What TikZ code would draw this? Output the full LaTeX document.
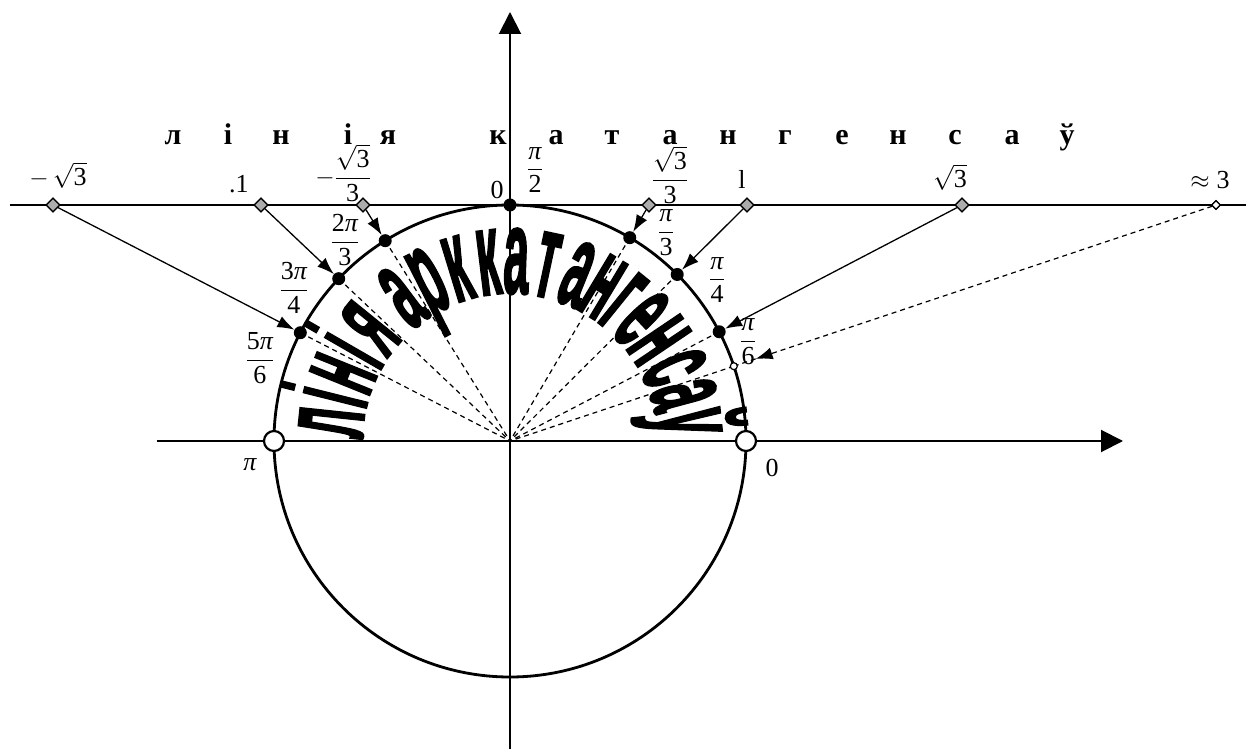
\documentclass[tikz,border=0pt]{standalone}
\usepackage{amsmath}
\usepackage{fontspec}
\setmainfont{Liberation Serif}
\newfontfamily\arcfont{Liberation Sans}[BoldFeatures={FakeBold=2.5}]
\usetikzlibrary{arrows.meta,shapes.geometric,calc}
\newcommand\ppi{\text{\itshape π}}
\newcommand\dg[1]{\text{#1}}
\begin{document}
\begin{tikzpicture}[x=1pt,y=1pt,
  axisline/.style={line width=2pt,-{Triangle[length=22pt,width=22pt]}},
  arr/.style={line width=1.3pt,-{Latex[length=17pt,width=12pt]}},
  dsh/.style={line width=1.2pt,dash pattern=on 5pt off 4pt},
  dia/.style={diamond,draw,fill=gray!65,line width=1.3pt,inner sep=0pt,minimum size=14pt},
  sdia/.style={diamond,draw,fill=white,line width=1.3pt,inner sep=0pt,minimum size=9pt},
  pdot/.style={circle,fill=black,inner sep=0pt,minimum size=13pt},
  odot/.style={circle,draw,fill=white,line width=2.2pt,minimum size=20pt,inner sep=0pt},
  sodot/.style={circle,draw,fill=white,line width=1.2pt,minimum size=7pt,inner sep=0pt},
  lab/.style={font=\fontsize{26}{30}\selectfont,inner sep=0pt},
  ttl/.style={font=\fontsize{30}{34}\selectfont\bfseries,inner sep=0pt,anchor=base},
  arcl/.style={font=\arcfont\bfseries\fontsize{120}{120}\selectfont,inner sep=0pt,anchor=base,xscale=0.38}]
\useasboundingbox (-510,-308) rectangle (736,441);
\coordinate (O) at (0,0);
% diamonds on the cotangent line
\node[dia] (D1) at (-457,236) {};
\node[dia] (D2) at (-249,236) {};
\node[dia] (D3) at (-147,236) {};
\node[dia] (D4) at (139,236) {};
\node[dia] (D5) at (237,236) {};
\node[dia] (D6) at (452,236) {};
\node[sdia] (D7) at (706,236) {};
% points on the circle
\coordinate (C1) at ($(O)!236pt!(D1)$);
\coordinate (C2) at ($(O)!236pt!(D2)$);
\coordinate (C3) at ($(O)!236pt!(D3)$);
\coordinate (C4) at ($(O)!236pt!(D4)$);
\coordinate (C5) at ($(O)!236pt!(D5)$);
\coordinate (C6) at ($(O)!236pt!(D6)$);
\coordinate (C7) at ($(O)!236pt!(D7)$);
\coordinate (Q7) at ($(O)!259pt!(D7)$);
% dashed radii
\foreach \i in {1,...,7} \draw[dsh] (C\i) -- (O);
\draw[dsh] (Q7) -- (C7);
% arc text
\foreach \a/\l in {174/л,166/і,158/н,150/і,141/я,127/а,117/р,107/к,97/к,88/а,78/т,68/а,59/н,51/г,43/е,34/н,24/с,15/а,6/ў}
  \node[rotate=\a-90,arcl] (arc\a) at (\a:148) {\l};
% circle and axes
\draw[line width=2.8pt] (O) circle (236);
\draw[axisline] (0,-308) -- (0,429);
\draw[axisline] (-353,0) -- (613,0);
\draw[line width=2.5pt] (-500,236) -- (736,236);
% dots
\foreach \i in {1,...,6} \node[pdot] (P\i) at (C\i) {};
\node[sodot] (P7) at (C7) {};
\node[pdot] (P0) at (0,236) {};
\node[odot] (Z0) at (236,0) {};
\node[odot] (Zpi) at (-236,0) {};
% arrows
\foreach \i in {1,...,6} \draw[arr] (D\i) -- (P\i);
\draw[dsh,-{Latex[length=17pt,width=12pt]}] (D7) -- (Q7);
% redraw diamonds on top
\node[dia] at (D1) {};
\node[dia] at (D2) {};
\node[dia] at (D3) {};
\node[dia] at (D4) {};
\node[dia] at (D5) {};
\node[dia] at (D6) {};
\node[sdia] at (D7) {};
% value labels
\node[lab] (t1) at (-452,266) {$-\,\sqrt{\dg{3}}$};
\node[lab] (t2) at (-271,257) {.1};
\node[lab] (t3) at (-167,268) {$-\dfrac{\sqrt{\dg{3}}}{\dg{3}}$};
\node[lab] (t0) at (-13,251) {0};
\node[lab] (a0) at (25,271) {$\dfrac{\ppi}{\dg{2}}$};
\node[lab] (t4) at (160,266) {$\dfrac{\sqrt{\dg{3}}}{\dg{3}}$};
\node[lab] (t5) at (232,262) {l};
\node[lab] (t6) at (440,264) {$\sqrt{\dg{3}}$};
\node[lab] (t7) at (700,261) {$\approx \dg{3}$};
% angle labels
\node[lab] (a1) at (-250,83) {$\dfrac{\dg{5}\ppi}{\dg{6}}$};
\node[lab] (a2) at (-216,153) {$\dfrac{\dg{3}\ppi}{\dg{4}}$};
\node[lab] (a3) at (-165,201) {$\dfrac{\dg{2}\ppi}{\dg{3}}$};
\node[lab] (a4) at (156,208) {$\dfrac{\ppi}{\dg{3}}$};
\node[lab] (a5) at (207,161) {$\dfrac{\ppi}{\dg{4}}$};
\node[lab] (a6) at (238,99) {$\dfrac{\ppi}{\dg{6}}$};
\node[lab] (api) at (-260,-24) {$\ppi$};
\node[lab] (az) at (262,-27) {0};
% title
\foreach \x/\l [count=\k] in {-337/л,-282/і,-229/н,-162/і,-122/я,-12/к,46/а,102/т,160/а,218/н,275/г,332/е,388/н,445/с,502/а,557/ў}
  \node[ttl] (ttl\k) at (\x,296) {\l};
\end{tikzpicture}
\end{document}
